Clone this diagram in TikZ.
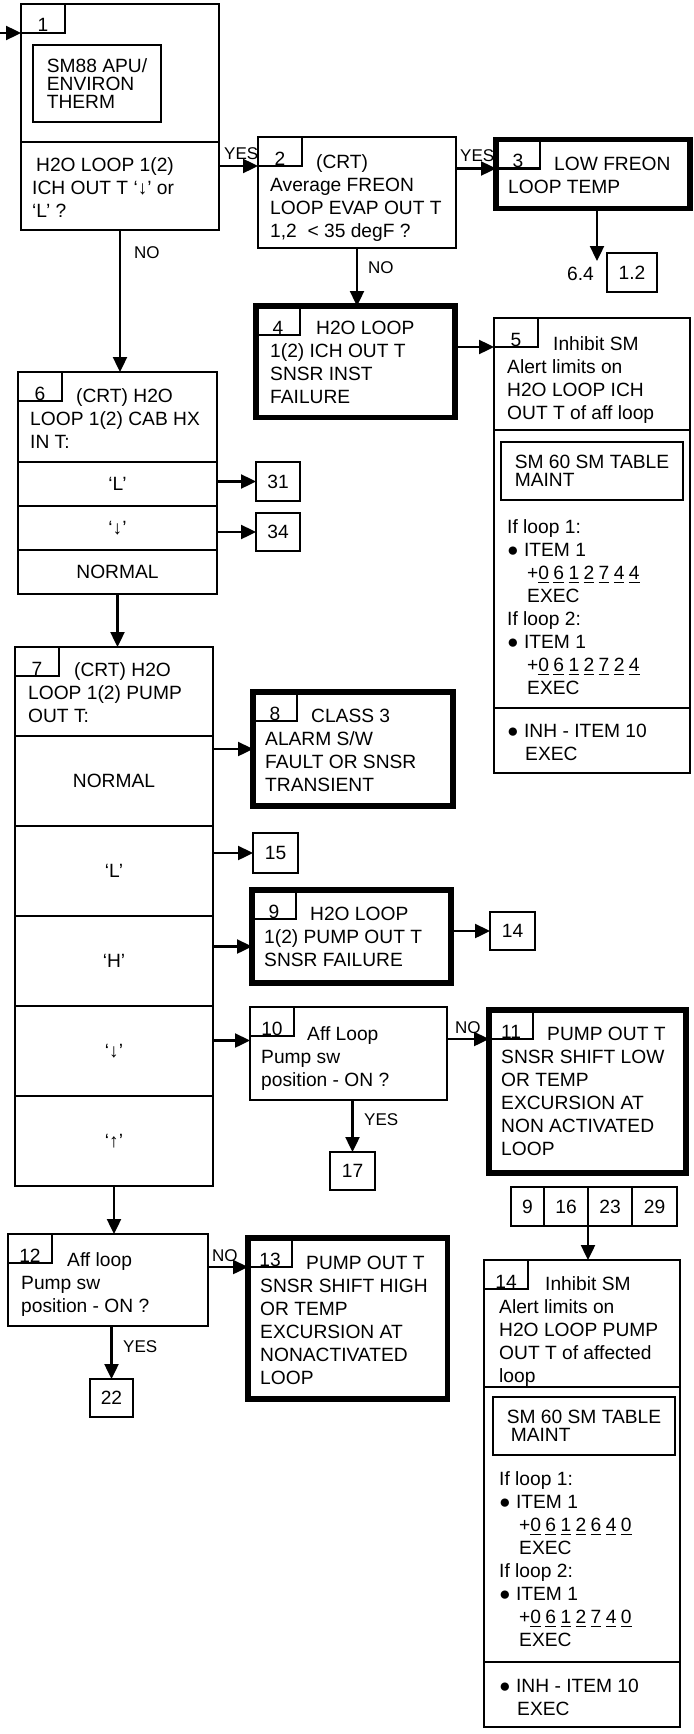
\documentclass[tikz,border=0pt]{standalone}
\usepackage{fontspec}
\setmainfont{Liberation Sans}
\usetikzlibrary{arrows.meta,positioning}
\newcommand{\hd}{\hspace*{23pt}}
\newcommand{\dg}[1]{\underline{#1}\hspace{2.2pt}}

\begin{document}
\begin{tikzpicture}[x=0.5pt, y=-0.5pt, line width=1.2pt,
      font=\fontsize{9.6}{11.5}\selectfont,
      blk/.style={draw, anchor=north west, outer sep=0pt, inner sep=0pt},
      thk/.style={blk, line width=2.6pt},
      cell/.style={blk, minimum width=99pt},
      tab/.style={blk, line width=1.2pt, minimum width=22pt, minimum height=14.5pt,
                  text height=13.5pt, text depth=0pt},
      inbox/.style={blk, align=left, font=\fontsize{9.6}{8.8}\selectfont},
      ref/.style={blk, minimum width=22pt, minimum height=19.5pt},
      txt/.style={anchor=north west, align=left, inner sep=0pt},
      lbl/.style={anchor=base west, inner sep=0pt, font=\fontsize{8.5}{10}\selectfont},
      arr/.style={-{Triangle[length=7.5pt, width=7pt]}, line width=1.2pt}]
    \useasboundingbox (0,0) rectangle (694,1734);

    \node[cell, minimum height=69pt] (c1a) at (21,4) {};
    \node[cell, minimum height=44pt, below=0pt of c1a] (c1b) {};
    \node[tab] (t1) at (c1a.north west) {1};
    \node[inbox, minimum width=64pt, minimum height=38.5pt] (sm88) at (33,45) {SM88 APU/\\ENVIRON\\THERM};
    \node[txt] (x1) at (31,156) {\hspace*{2pt}H2O LOOP 1(2)\\ICH OUT T ‘↓’ or\\‘L’ ?};

    \node[blk, minimum width=99pt, minimum height=55.5pt] (b2) at (258,137) {};
    \node[tab] (t2) at (b2.north west) {2};
    \node[txt] (x2) at (269,153) {\hd(CRT)\\Average FREON\\LOOP EVAP OUT T\\1,2~~< 35 degF ?};

    \node[thk, minimum width=97pt, minimum height=34.5pt] (b3) at (496,139.5) {};
    \node[tab] (t3) at (b3.north west) {3};
    \node[txt] (x3) at (507,156) {\hd LOW FREON\\LOOP TEMP};
    \node[anchor=base east, inner sep=0pt] (l64) at (595,280) {6.4};
    \node[ref, minimum width=25pt] (r12) at (607,253) {1.2};

    \node[thk, minimum width=99.5pt, minimum height=55.75pt] (b4) at (256,306) {};
    \node[tab] (t4) at (b4.north west) {4};
    \node[txt] (x4) at (269,320) {\hd H2O LOOP\\1(2) ICH OUT T\\SNSR INST\\FAILURE};

    \node[cell, minimum width=98pt, minimum height=56pt] (h5a) at (494,318) {};
    \node[cell, minimum width=98pt, minimum height=139pt, below=0pt of h5a] (h5b) {};
    \node[cell, minimum width=98pt, minimum height=32.5pt, below=0pt of h5b] (h5c) {};
    \node[tab] (t5) at (h5a.north west) {5};
    \node[txt] (x5a) at (506,335) {\hd Inhibit SM\\Alert limits on\\H2O LOOP ICH\\OUT T of aff loop};
    \node[inbox, minimum width=91pt, minimum height=29pt] (sm60a) at (501,442) {SM 60 SM TABLE\\MAINT};
    \node[txt] (x5b) at (506,518) {If loop 1:\\● ITEM 1\\\hspace*{10pt}+\dg{0}\dg{6}\dg{1}\dg{2}\dg{7}\dg{4}\dg{4}\\\hspace*{10pt}EXEC\\If loop 2:\\● ITEM 1\\\hspace*{10pt}+\dg{0}\dg{6}\dg{1}\dg{2}\dg{7}\dg{2}\dg{4}\\\hspace*{10pt}EXEC};
    \node[txt] (x5c) at (506,723) {● INH - ITEM 10\\\hspace*{9pt}EXEC};

    \node[cell, minimum width=99.5pt, minimum height=45pt] (h6) at (18,372) {};
    \node[cell, minimum width=99.5pt, minimum height=22pt, below=0pt of h6] (r6l) {‘L’};
    \node[cell, minimum width=99.5pt, minimum height=22pt, below=0pt of r6l] (r6d) {‘↓’};
    \node[cell, minimum width=99.5pt, minimum height=22pt, below=0pt of r6d] (r6n) {NORMAL};
    \node[tab] (t6) at (h6.north west) {6};
    \node[txt] (x6) at (29,387) {\hd(CRT) H2O\\LOOP 1(2) CAB HX\\IN T:};
    \node[ref] (r31) at (256,462) {31};
    \node[ref, minimum height=19pt] (r34) at (256,513) {34};

    \node[cell, minimum height=44.5pt] (h7) at (15,647) {};
    \node[cell, minimum height=45pt, below=0pt of h7] (r7n) {NORMAL};
    \node[cell, minimum height=45pt, below=0pt of r7n] (r7l) {‘L’};
    \node[cell, minimum height=45pt, below=0pt of r7l] (r7h) {‘H’};
    \node[cell, minimum height=45pt, below=0pt of r7h] (r7d) {‘↓’};
    \node[cell, minimum height=45pt, below=0pt of r7d] (r7u) {‘↑’};
    \node[tab] (t7) at (h7.north west) {7};
    \node[txt] (x7) at (27,661) {\hd(CRT) H2O\\LOOP 1(2) PUMP\\OUT T:};

    \node[thk, minimum width=100pt, minimum height=57pt] (b8) at (253,692) {};
    \node[tab] (t8) at (b8.north west) {8};
    \node[txt] (x8) at (264,708) {\hd CLASS 3\\ALARM S/W\\FAULT OR SNSR\\TRANSIENT};
    \node[ref, minimum width=22.5pt, minimum height=20pt] (r15) at (253,833) {15};

    \node[thk, minimum width=99.5pt, minimum height=46.5pt] (b9) at (252,890) {};
    \node[tab] (t9) at (b9.north west) {9};
    \node[txt] (x9) at (263,906) {\hd H2O LOOP\\1(2) PUMP OUT T\\SNSR FAILURE};
    \node[ref, minimum width=22.5pt, minimum height=19pt] (r14) at (490,912) {14};

    \node[blk, minimum width=98.5pt, minimum height=46.5pt] (b10) at (250,1007) {};
    \node[tab] (t10) at (b10.north west) {10};
    \node[txt] (x10) at (260,1025) {\hd Aff Loop\\Pump sw\\position - ON ?};
    \node[ref, minimum width=22.5pt, minimum height=19pt] (r17) at (330,1152) {17};

    \node[thk, minimum width=98.5pt, minimum height=81.5pt] (b11) at (489,1010) {};
    \node[tab] (t11) at (b11.north west) {11};
    \node[txt] (x11) at (500,1026) {\hd PUMP OUT T\\SNSR SHIFT LOW\\OR TEMP\\EXCURSION AT\\NON ACTIVATED\\LOOP};

    \node[ref, minimum width=16.5pt] (r9) at (511,1187) {9};
    \node[ref, right=0pt of r9] (r16) {16};
    \node[ref, right=0pt of r16] (r23) {23};
    \node[ref, minimum width=22.5pt, right=0pt of r23] (r29) {29};

    \node[blk, minimum width=100pt, minimum height=46pt] (b12) at (8,1234) {};
    \node[tab] (t12) at (b12.north west) {12};
    \node[txt] (x12) at (20,1251) {\hd Aff loop\\Pump sw\\position - ON ?};
    \node[ref, minimum width=21.5pt, minimum height=19pt] (r22) at (90,1379) {22};

    \node[thk, minimum width=99.75pt, minimum height=80.5pt] (b13) at (248,1238) {};
    \node[tab] (t13) at (b13.north west) {13};
    \node[txt] (x13) at (259,1255) {\hd PUMP OUT T\\SNSR SHIFT HIGH\\OR TEMP\\EXCURSION AT\\NONACTIVATED\\LOOP};

    \node[cell, minimum width=98pt, minimum height=63.5pt] (h14a) at (484,1260) {};
    \node[cell, minimum width=98pt, minimum height=137.5pt, below=0pt of h14a] (h14b) {};
    \node[cell, minimum width=98pt, minimum height=32.5pt, below=0pt of h14b] (h14c) {};
    \node[tab] (t14) at (h14a.north west) {14};
    \node[txt] (x14a) at (498,1275) {\hd Inhibit SM\\Alert limits on\\H2O LOOP PUMP\\OUT T of affected\\loop};
    \node[inbox, minimum width=91pt, minimum height=29pt] (sm60b) at (493,1397) {SM 60 SM TABLE\\\hspace*{2pt}MAINT};
    \node[txt] (x14b) at (498,1470) {If loop 1:\\● ITEM 1\\\hspace*{10pt}+\dg{0}\dg{6}\dg{1}\dg{2}\dg{6}\dg{4}\dg{0}\\\hspace*{10pt}EXEC\\If loop 2:\\● ITEM 1\\\hspace*{10pt}+\dg{0}\dg{6}\dg{1}\dg{2}\dg{7}\dg{4}\dg{0}\\\hspace*{10pt}EXEC};
    \node[txt] (x14c) at (498,1678) {● INH - ITEM 10\\\hspace*{9pt}EXEC};

    \node[lbl] (lyes1) at (223,160) {YES};
    \node[lbl] (lyes2) at (459,162) {YES};
    \node[lbl] (lno1) at (133,258) {NO};
    \node[lbl] (lno2) at (367,273) {NO};
    \node[lbl] (lno3) at (454,1033) {NO};
    \node[lbl] (lyes3) at (363,1125) {YES};
    \node[lbl] (lno4) at (211,1261) {NO};
    \node[lbl] (lyes4) at (122,1352) {YES};

    \coordinate (in1) at (0,33);
    \coordinate (e3) at (597,261);
    \coordinate (a9) at ([yshift=-5pt]b9.west);
    \coordinate (a10) at ([yshift=6.5pt]b10.west);
    \draw[arr] (in1) -- (t1.south west);
    \draw[arr] (c1b.east |- t2.south west) -- (t2.south west);
    \draw[arr] (b2.east |- t3.south west) -- (t3.south west);
    \draw[arr] (b3.south -| e3) -- (e3);
    \draw[arr] (b2.south) -- (b2.south |- b4.north);
    \draw[arr] (c1b.south) -- (c1b.south |- h6.north);
    \draw[arr] (b4.east |- t5.south west) -- (t5.south west);
    \draw[arr] (r6l.east |- r31.west) -- (r31.west);
    \draw[arr] (r6d.east |- r34.west) -- (r34.west);
    \draw[arr] (r6n.south) -- (r6n.south |- h7.north);
    \draw[arr] (r7n.east |- b8.west) -- (b8.west);
    \draw[arr] (r7l.east |- r15.west) -- (r15.west);
    \draw[arr] (r7h.east |- a9) -- (a9);
    \draw[arr] (r7d.east |- a10) -- (a10);
    \draw[arr] (b9.east |- r14.west) -- (r14.west);
    \draw[arr] (b10.east |- t11.south west) -- (t11.south west);
    \draw[arr] (b10.south -| r17.north) -- (r17.north);
    \draw[arr] (r7u.south) -- (r7u.south |- b12.north);
    \draw[arr] (b12.east |- t13.south west) -- (t13.south west);
    \draw[arr] (b12.south -| r22.north) -- (r22.north);
    \draw[arr] (r16.south east) -- (r16.south east |- h14a.north);
  \end{tikzpicture}
\end{document}
